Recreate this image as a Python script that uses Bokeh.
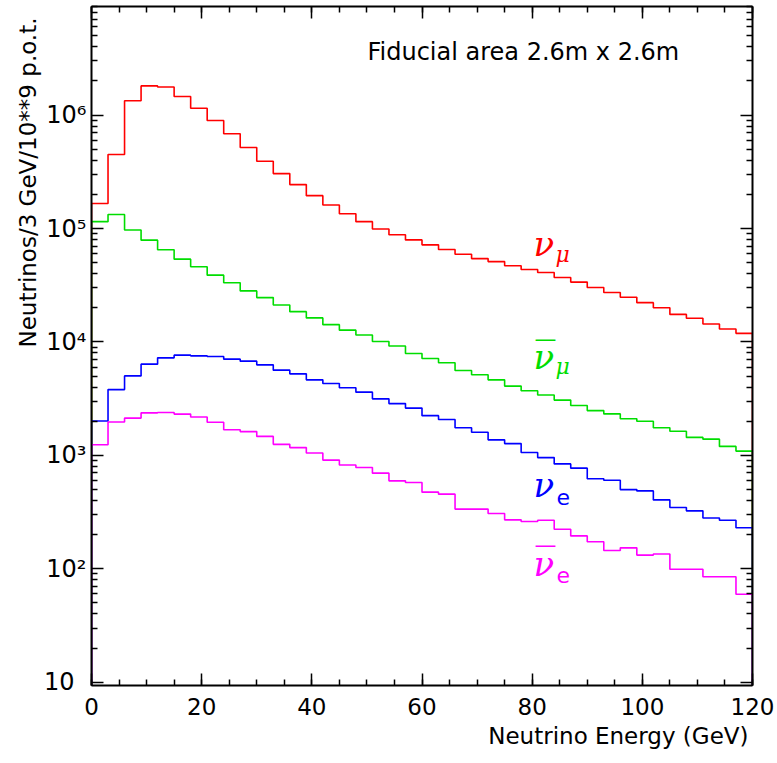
from bokeh.plotting import figure
from bokeh.models import (Label, LinearAxis, LogAxis, FixedTicker, Range1d, Title)
from bokeh.embed import file_html
from bokeh.resources import INLINE

# ---------------- data ----------------
bin_width = 3.0
e_min, e_max = 0.0, 120.0

numu = [1.66e5, 4.5e5, 1.34e6, 1.81e6, 1.77e6, 1.46e6, 1.15e6, 8.96e5, 6.84e5, 5.18e5,
        3.92e5, 3.05e5, 2.44e5, 1.95e5, 1.61e5, 1.35e5, 1.15e5, 9.9e4, 8.8e4, 7.94e4,
        7.18e4, 6.53e4, 5.94e4, 5.43e4, 5.11e4, 4.69e4, 4.35e4, 4.09e4, 3.70e4, 3.37e4,
        3.02e4, 2.73e4, 2.48e4, 2.22e4, 2.0e4, 1.75e4, 1.62e4, 1.44e4, 1.30e4, 1.19e4]
numubar = [1.15e5, 1.33e5, 9.7e4, 7.9e4, 6.5e4, 5.37e4, 4.6e4, 3.88e4, 3.33e4, 2.82e4,
           2.46e4, 2.12e4, 1.85e4, 1.63e4, 1.42e4, 1.27e4, 1.15e4, 1.01e4, 9.2e3, 7.9e3,
           7.15e3, 6.55e3, 5.6e3, 5.13e3, 4.63e3, 4.08e3, 3.71e3, 3.41e3, 3.07e3, 2.75e3,
           2.48e3, 2.32e3, 2.10e3, 2.0e3, 1.75e3, 1.63e3, 1.44e3, 1.39e3, 1.20e3, 1.09e3]
nue = [2.01e3, 3.80e3, 5.02e3, 6.37e3, 7.24e3, 7.65e3, 7.54e3, 7.43e3, 7.05e3, 6.77e3,
       6.28e3, 5.64e3, 5.23e3, 4.63e3, 4.30e3, 3.94e3, 3.61e3, 3.15e3, 2.86e3, 2.61e3,
       2.24e3, 2.07e3, 1.75e3, 1.60e3, 1.37e3, 1.27e3, 1.06e3, 955, 841, 771,
       621, 604, 499, 486, 405, 347, 324, 280, 268, 230]
nuebar = [1.24e3, 1.97e3, 2.13e3, 2.37e3, 2.39e3, 2.31e3, 2.18e3, 1.96e3, 1.68e3, 1.62e3,
          1.47e3, 1.25e3, 1.17e3, 1.05e3, 908, 821, 782, 697, 596, 576,
          474, 455, 336, 336, 307, 270, 261, 268, 223, 195,
          173, 145, 153, 132, 135, 99, 99, 85, 85, 59.7]

x_ticks = [0, 20, 40, 60, 80, 100, 120]
x_minor = [v for v in range(0, 121, 5)]
y_exponents = [1, 2, 3, 4, 5, 6]
y_tick_labels = ["10\u2002", "10\u00b2", "10\u00b3", "10\u2074", "10\u2075", "10\u2076"]
y_minor = [k * 10 ** e for e in range(1, 7) for k in range(2, 10)]

series = [
    (numu, "#ff0000"),
    (numubar, "#00dd00"),
    (nue, "#0000ff"),
    (nuebar, "#ff00ff"),
]

FONT = "DejaVu Sans"

# ---------------- figure ----------------
y_lo, y_hi = 9.35, 9.07e6
p = figure(width=777, height=763, x_range=Range1d(e_min, e_max),
           y_range=Range1d(y_lo, y_hi), y_axis_type="log",
           output_backend="svg", toolbar_location=None,
           min_border_left=91, min_border_right=25, min_border_top=6,
           min_border_bottom=78)
p.outline_line_color = None
p.grid.visible = False
p.background_fill_color = "white"
p.border_fill_color = "white"

def style_axis(ax, ticks, minors, hide_labels):
    ax.ticker = FixedTicker(ticks=ticks, minor_ticks=minors)
    ax.axis_line_color = "black"
    ax.axis_line_width = 2
    ax.major_tick_in = 12
    ax.major_tick_out = 0
    ax.minor_tick_in = 6
    ax.minor_tick_out = 0
    ax.major_tick_line_color = "black"
    ax.minor_tick_line_color = "black"
    ax.major_tick_line_width = 1.5
    ax.minor_tick_line_width = 1.5
    if hide_labels:
        ax.major_label_overrides = {t: "" for t in ticks}
        ax.major_label_standoff = 0

y_major = [10.0 ** e for e in y_exponents]

xa = p.xaxis[0]
style_axis(xa, x_ticks, x_minor, False)
xa.major_label_text_font = FONT
xa.major_label_text_font_size = "23px"
xa.major_label_text_color = "black"
xa.major_label_standoff = 12

ya = p.yaxis[0]
style_axis(ya, y_major, y_minor, False)
ya.major_label_overrides = {t: s for t, s in zip(y_major, y_tick_labels)}
ya.major_label_text_font = FONT
ya.major_label_text_font_size = "24px"
ya.major_label_text_color = "black"
ya.major_label_standoff = 5

top_ax = LinearAxis()
style_axis(top_ax, x_ticks, x_minor, True)
p.add_layout(top_ax, "above")
right_ax = LogAxis()
style_axis(right_ax, y_major, y_minor, True)
p.add_layout(right_ax, "right")

# axis titles as side titles (aligned like the original)
p.add_layout(Title(text="Neutrino Energy (GeV)", align="right", text_font=FONT,
                   text_font_size="23px", text_font_style="normal",
                   text_color="black", standoff=6, offset=4), "below")
p.add_layout(Title(text="Neutrinos/3 GeV/10**9 p.o.t.", align="right", text_font=FONT,
                   text_font_size="23px", text_font_style="normal",
                   text_color="black", standoff=0, offset=11), "left")

# ---------------- histograms ----------------
floor = 1.0
for vals, col in series:
    xs = [e_min]
    ys = [floor]
    for i, v in enumerate(vals):
        lo = e_min + i * bin_width
        hi = lo + bin_width
        xs += [lo, hi]
        ys += [v, v]
    xs.append(e_max)
    ys.append(floor)
    p.line(xs, ys, line_color=col, line_width=1.6)

# ---------------- text inside the frame ----------------
FX0, FY0 = 91, 685   # frame bottom-left in page pixels

def lab(text, px, py, size, color="black", align="left", baseline="middle",
        font=FONT, style="normal"):
    p.add_layout(Label(x=px - FX0, y=FY0 - py, x_units="screen", y_units="screen",
                       text=text, text_font=font, text_font_size=size,
                       text_color=color, text_align=align, text_baseline=baseline,
                       text_font_style=style))

lab("Fiducial area 2.6m x 2.6m", 367, 51, "24px")

NU_FONT = "DejaVu Serif"
lab("\u03bd", 533, 243, "34px", color="#ff0000", font=NU_FONT, style="italic")
lab("\u03bc", 555, 254, "22px", color="#ff0000", font=NU_FONT, style="italic")

lab("\u03bd", 533, 356, "34px", color="#00dd00", font=NU_FONT, style="italic")
lab("\u2014", 534, 338, "22px", color="#00dd00")
lab("\u03bc", 555, 366, "22px", color="#00dd00", font=NU_FONT, style="italic")

lab("\u03bd", 533, 484, "34px", color="#0000ff", font=NU_FONT, style="italic")
lab("e", 556, 496, "22px", color="#0000ff")

lab("\u03bd", 533, 563, "34px", color="#ff00ff", font=NU_FONT, style="italic")
lab("\u2014", 534, 544, "22px", color="#ff00ff")
lab("e", 556, 574, "22px", color="#ff00ff")

open("out.html", "w").write(file_html(p, INLINE))
